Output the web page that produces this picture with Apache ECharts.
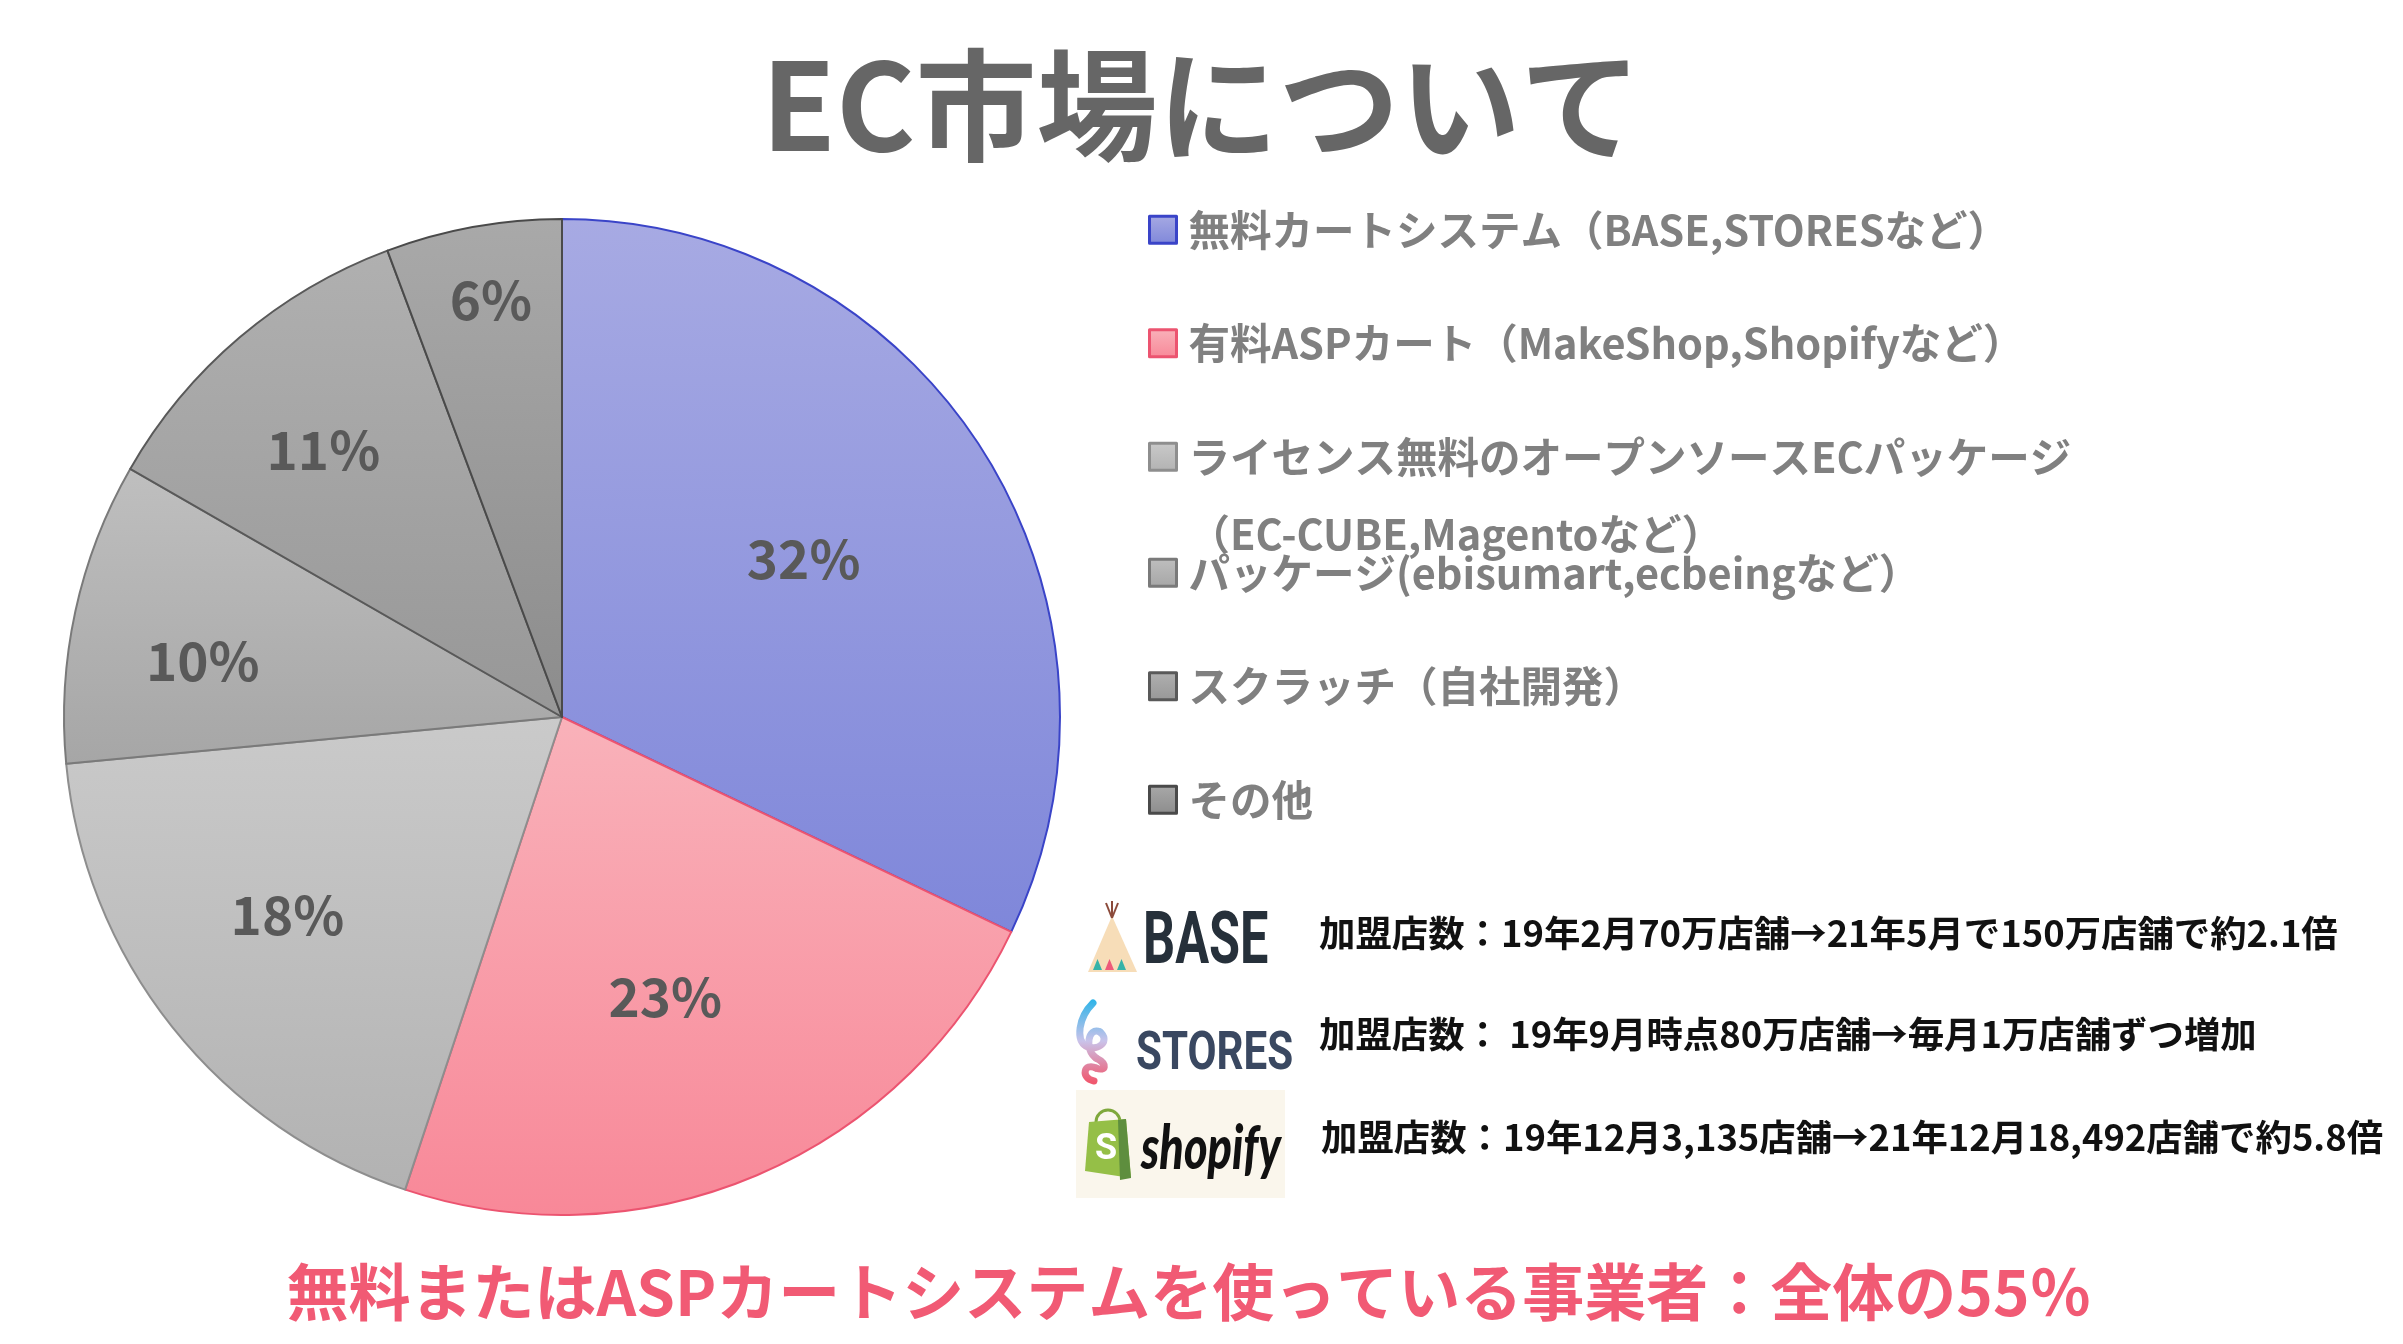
<!DOCTYPE html>
<html>
<head>
<meta charset="utf-8">
<script src="https://cdn.jsdelivr.net/npm/echarts@6/dist/echarts.min.js"></script>
<style>
html,body{margin:0;padding:0;background:#fff;}
#chart{width:2403px;height:1344px;}
</style>
</head>
<body>
<div id="chart"></div>
<script>
// ---- data ----
const titleText = 'EC市場について';
const categories = [
  '無料カートシステム（BASE,STORESなど）',
  '有料ASPカート（MakeShop,Shopifyなど）',
  'ライセンス無料のオープンソースECパッケージ\n（EC-CUBE,Magentoなど）',
  'パッケージ(ebisumart,ecbeingなど）',
  'スクラッチ（自社開発）',
  'その他'
];
const values = [32.1, 23.0, 18.4, 9.8, 11.0, 5.7];
const noteTexts = [
  '加盟店数：19年2月70万店舗→21年5月で150万店舗で約2.1倍',
  '加盟店数： 19年9月時点80万店舗→毎月1万店舗ずつ増加',
  '加盟店数：19年12月3,135店舗→21年12月18,492店舗で約5.8倍'
];
const footerText = '無料またはASPカートシステムを使っている事業者：全体の55％';

// ---- styles ----
const FONT = '"Noto Sans CJK JP", "Noto Sans", sans-serif';
const gradTop = ['#A7AAE3', '#F9B2BA', '#CACACA', '#BFBFBF', '#B0B0B0', '#A9A9A9'];
const gradBot = ['#7F87DA', '#F88898', '#B2B2B2', '#A6A6A6', '#979797', '#8C8C8C'];
const borders = ['#3A44C8', '#EC5470', '#8E8E8E', '#7A7A7A', '#595959', '#4A4A4A'];
const labelRadiusFrac = [0.58, 0.60, 0.68, 0.73, 0.72, 0.85];
const labelAngleShift = [-1, 2.8, 2.7, -3.4, -1.4, 0.6]; // degrees
const CX = 562, CY = 717, R = 498;

const chart = echarts.init(document.getElementById('chart'), null, {renderer: 'canvas'});

const total = values.reduce((a, b) => a + b, 0);
const midAngles = [];
(function () {
  let acc = 0;
  values.forEach(v => { midAngles.push((acc + v / 2) / total * Math.PI * 2); acc += v; });
})();

const pieData = values.map((v, i) => ({
  name: categories[i],
  value: v,
  itemStyle: {
    color: new echarts.graphic.LinearGradient(0, 0, 0, 1, [
      {offset: 0, color: gradTop[i]}, {offset: 1, color: gradBot[i]}
    ]),
    borderColor: borders[i],
    borderWidth: 2
  }
}));

const graphics = [];
// footer
graphics.push({
  type: 'text', x: 1189, y: 1292,
  style: {text: footerText, fontFamily: FONT, fontSize: 62, fontWeight: 'bold', fill: '#F15A74',
          textAlign: 'center', textVerticalAlign: 'middle'}
});
// notes
const noteY = [933, 1034, 1137];
const noteX = [1319, 1319, 1321];
noteTexts.forEach((t, i) => {
  graphics.push({
    type: 'text', x: noteX[i], y: noteY[i],
    style: {text: t, fontFamily: FONT, fontSize: 36.4, fontWeight: 'bold', fill: '#111111',
            textAlign: 'left', textVerticalAlign: 'middle'}
  });
});
// BASE logo
graphics.push({type: 'polygon', shape: {points: [[1088, 972], [1137, 972], [1112, 916]]}, style: {fill: '#F7DDB8'}});
graphics.push({type: 'line', shape: {x1: 1106, y1: 903, x2: 1112, y2: 918}, style: {stroke: '#8B4A3A', lineWidth: 2}});
graphics.push({type: 'line', shape: {x1: 1118, y1: 903, x2: 1112, y2: 918}, style: {stroke: '#8B4A3A', lineWidth: 2}});
graphics.push({type: 'line', shape: {x1: 1112, y1: 901, x2: 1112, y2: 918}, style: {stroke: '#8B4A3A', lineWidth: 2}});
graphics.push({type: 'polygon', shape: {points: [[1093, 970], [1102, 970], [1097.5, 959]]}, style: {fill: '#36B3A8'}});
graphics.push({type: 'polygon', shape: {points: [[1105, 970], [1114, 970], [1109.5, 959]]}, style: {fill: '#EE5A7A'}});
graphics.push({type: 'polygon', shape: {points: [[1117, 970], [1126, 970], [1121.5, 959]]}, style: {fill: '#36B3A8'}});
graphics.push({
  type: 'text', x: 1143, y: 945, scaleX: 0.7,
  style: {text: 'BASE', fontFamily: 'Roboto, sans-serif', fontSize: 72, fontWeight: 'bold', fill: '#26303A',
          textAlign: 'left', textVerticalAlign: 'middle'}
});
// STORES logo (swirl from bezier segments)
const swirlGrad = new echarts.graphic.LinearGradient(0, 1000, 0, 1082, [
  {offset: 0, color: '#2FB4E8'}, {offset: 0.5, color: '#C9C3EA'}, {offset: 1, color: '#F0586F'}
], true);
const swirlSegs = [
  [1093, 1003, 1078, 1018, 1076, 1040, 1086, 1046],
  [1086, 1046, 1100, 1052, 1110, 1040, 1100, 1032],
  [1100, 1032, 1088, 1026, 1084, 1050, 1096, 1058],
  [1096, 1058, 1108, 1064, 1106, 1072, 1096, 1068],
  [1096, 1068, 1084, 1062, 1080, 1078, 1094, 1081]
];
swirlSegs.forEach(s => {
  graphics.push({
    type: 'bezierCurve',
    shape: {x1: s[0], y1: s[1], cpx1: s[2], cpy1: s[3], cpx2: s[4], cpy2: s[5], x2: s[6], y2: s[7]},
    style: {fill: null, lineWidth: 7, lineCap: 'round', stroke: swirlGrad}
  });
});
graphics.push({
  type: 'text', x: 1136, y: 1055, scaleX: 0.78,
  style: {text: 'STORES', fontFamily: 'Roboto, sans-serif', fontSize: 54, fontWeight: 'bold', fill: '#3A4861',
          textAlign: 'left', textVerticalAlign: 'middle'}
});
// shopify logo
graphics.push({type: 'rect', shape: {x: 1076, y: 1090, width: 209, height: 108}, style: {fill: '#FAF6EC'}});
graphics.push({type: 'arc', shape: {cx: 1108, cy: 1122, r: 12, startAngle: Math.PI, endAngle: 2 * Math.PI}, style: {stroke: '#7FA83C', lineWidth: 3, fill: null}});
graphics.push({type: 'polygon', shape: {points: [[1089, 1122], [1126, 1119], [1131, 1178], [1085, 1171]]}, style: {fill: '#95BF47'}});
graphics.push({type: 'polygon', shape: {points: [[1118, 1120], [1126, 1119], [1131, 1178], [1120, 1180]]}, style: {fill: '#5E8E3E'}});
graphics.push({
  type: 'text', x: 1106, y: 1150,
  style: {text: 'S', fontFamily: 'Roboto, sans-serif', fontSize: 36, fontWeight: 'bold', fill: '#FFFFFF',
          textAlign: 'center', textVerticalAlign: 'middle'}
});
graphics.push({
  type: 'text', x: 1141, y: 1150, scaleX: 0.75,
  style: {text: 'shopify', fontFamily: 'Lato, Roboto, sans-serif', fontSize: 60, fontWeight: 900, fontStyle: 'italic', fill: '#111111',
          textAlign: 'left', textVerticalAlign: 'middle'}
});

const legendText = {
  fontFamily: FONT, fontSize: 41.5, fontWeight: 'bold', color: '#808080',
  padding: [0, 0, 0, 7],
  height: 41,
  rich: {
    a: {fontFamily: FONT, fontSize: 41.5, fontWeight: 'bold', color: '#808080', lineHeight: 41},
    b: {fontFamily: FONT, fontSize: 41.5, fontWeight: 'bold', color: '#808080', lineHeight: 113}
  }
};
const legendFormatter = function (name) {
  const parts = name.split('\n');
  let s = '{a|' + parts[0] + '}';
  if (parts[1]) s += '\n{b|' + parts[1] + '}';
  return s;
};
const legendCommon = {
  orient: 'vertical',
  left: 1143,
  itemWidth: 27,
  itemHeight: 27,
  itemGap: 72,
  icon: 'rect',
  selectedMode: false,
  formatter: legendFormatter,
  textStyle: legendText,
  itemStyle: {borderWidth: 3}
};

const option = {
  backgroundColor: '#FFFFFF',
  animation: false,
  title: {
    text: titleText,
    left: 'center',
    top: 40,
    textStyle: {fontFamily: FONT, fontSize: 121, fontWeight: 'bold', color: '#666666'}
  },
  legend: [
    Object.assign({}, legendCommon, {top: 204, data: categories.slice(0, 3)}),
    Object.assign({}, legendCommon, {top: 547, data: categories.slice(3)})
  ],
  series: [{
    type: 'pie',
    center: [CX, CY],
    radius: R,
    startAngle: 90,
    clockwise: true,
    avoidLabelOverlap: false,
    emphasis: {disabled: true},
    label: {
      show: true,
      position: 'inside',
      formatter: p => Math.round(p.percent) + '%',
      fontFamily: FONT, fontSize: 53, fontWeight: 'bold', color: '#595959'
    },
    labelLine: {show: false},
    labelLayout: function (params) {
      const i = params.dataIndex;
      const f = labelRadiusFrac[i];
      const a = midAngles[i] + labelAngleShift[i] * Math.PI / 180;
      return {
        x: CX + f * R * Math.sin(a),
        y: CY - f * R * Math.cos(a),
        align: 'center',
        verticalAlign: 'middle'
      };
    },
    data: pieData
  }],
  graphic: graphics
};
chart.setOption(option);
</script>
</body>
</html>
